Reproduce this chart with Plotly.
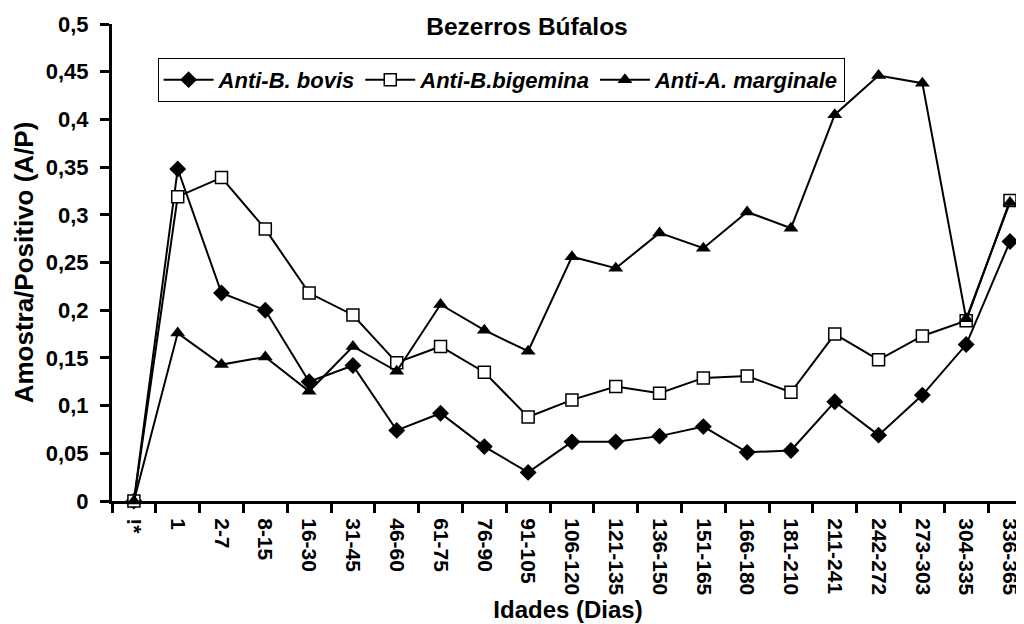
import plotly.graph_objects as go

# age classes (days)
idades = ["!*", "1", "2-7", "8-15", "16-30", "31-45", "46-60", "61-75", "76-90",
          "91-105", "106-120", "121-135", "136-150", "151-165", "166-180",
          "181-210", "211-241", "242-272", "273-303", "304-335", "336-365"]

# A/P ratios
b_bovis = [0, 0.348, 0.218, 0.200, 0.125, 0.142, 0.074, 0.092, 0.057, 0.030,
           0.062, 0.062, 0.068, 0.078, 0.051, 0.053, 0.104, 0.069, 0.111,
           0.164, 0.272]
b_bigemina = [0, 0.319, 0.339, 0.285, 0.218, 0.195, 0.145, 0.162, 0.135, 0.088,
              0.106, 0.120, 0.113, 0.129, 0.131, 0.114, 0.175, 0.148, 0.173,
              0.189, 0.315]
a_marginale = [0, 0.176, 0.143, 0.151, 0.115, 0.162, 0.136, 0.206, 0.179, 0.157,
               0.256, 0.244, 0.281, 0.265, 0.303, 0.286, 0.405, 0.446, 0.438,
               0.191, 0.313]

FONT = "Liberation Sans, Arial, sans-serif"

# the page body has an 8px margin, so the figure is a bit smaller than the window
W, H = 1016, 616

series = [
    ("Anti-B. bovis", b_bovis, dict(symbol="diamond", size=13, color="black")),
    ("Anti-B.bigemina", b_bigemina,
     dict(symbol="square", size=12, color="white", line=dict(color="black", width=1.5))),
    ("Anti-A. marginale", a_marginale, dict(symbol="triangle-up", size=13, color="black")),
]

fig = go.Figure()
for name, vals, marker in series:
    fig.add_trace(
        go.Scatter(
            x=idades,
            y=vals,
            mode="lines+markers",
            name=name,
            line=dict(color="black", width=2),
            marker=marker,
            cliponaxis=False,
        )
    )

fig.update_layout(
    width=W,
    height=H,
    margin=dict(l=104, r=0, t=16, b=123),
    paper_bgcolor="white",
    plot_bgcolor="white",
    separators=",.",
    font=dict(family=FONT, color="black"),
    title=dict(
        text="Bezerros Búfalos",
        x=519 / W,
        xref="container",
        xanchor="center",
        y=1 - 18 / H,
        yref="container",
        yanchor="middle",
        font=dict(size=24.5, weight="bold", family=FONT),
    ),
    legend=dict(
        orientation="h",
        x=0.05,
        xanchor="left",
        y=0.929,
        yanchor="top",
        bordercolor="black",
        borderwidth=1,
        bgcolor="white",
        font=dict(size=22, weight="bold", style="italic", family=FONT),
        itemwidth=50,
    ),
    showlegend=True,
)

fig.update_xaxes(
    type="category",
    range=[-0.5, 20.32],
    showgrid=False,
    showline=True,
    linecolor="black",
    linewidth=3,
    ticks="outside",
    tickson="boundaries",
    ticklen=9,
    tickwidth=3,
    tickcolor="black",
    tickangle=90,
    ticklabelstandoff=10,
    tickfont=dict(size=21, weight="bold", family=FONT),
    title=dict(text="Idades (Dias)", font=dict(size=24, weight="bold", family=FONT),
               standoff=0),
)

fig.update_yaxes(
    range=[0, 0.5],
    dtick=0.05,
    tick0=0,
    showgrid=False,
    zeroline=False,
    showline=True,
    linecolor="black",
    linewidth=3,
    ticks="outside",
    ticklen=9,
    tickwidth=3,
    tickcolor="black",
    ticklabelstandoff=7,
    tickfont=dict(size=22, weight="bold", family=FONT),
    title=dict(text="Amostra/Positivo (A/P)", font=dict(size=26, weight="bold", family=FONT),
               standoff=5),
)

fig.write_html("out.html")
